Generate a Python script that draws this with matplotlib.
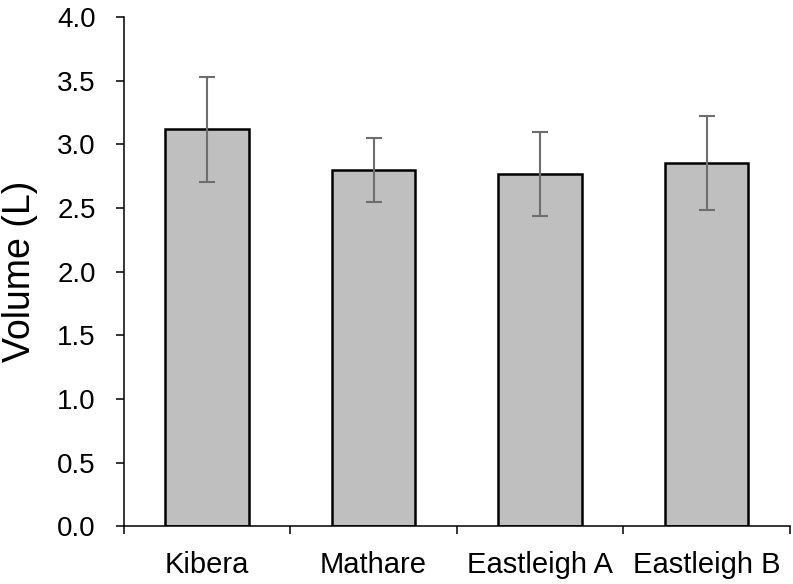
import numpy as np
from matplotlib import pyplot as plt

plt.rcParams['font.family'] = ['Liberation Sans', 'DejaVu Sans']

sites = ["Kibera", "Mathare", "Eastleigh A", "Eastleigh B"]
volume = [3.12, 2.80, 2.77, 2.85]
err_low = [0.42, 0.25, 0.33, 0.37]
err_high = [0.41, 0.25, 0.33, 0.37]

fig = plt.figure(figsize=(7.93, 5.84), dpi=100)
ax = fig.add_axes([0.156, 0.099, 0.840, 0.872])

x = np.arange(len(sites))
ax.bar(x, volume, width=0.5, color="#bfbfbf", edgecolor="black", linewidth=1.8, zorder=2)
ax.errorbar(x, volume, yerr=[err_low, err_high], fmt="none", ecolor="#6e6e6e",
            elinewidth=1.5, capsize=6, capthick=1.5, zorder=3)

ax.set_xlim(-0.5, len(sites) - 0.5)
ax.set_ylim(0, 4.0)
ax.set_yticks(np.arange(0, 4.01, 0.5))
ax.set_yticklabels([f"{v:.1f}" for v in np.arange(0, 4.01, 0.5)])
ax.set_xticks(x)
ax.set_xticklabels(sites)
ax.set_xticks(np.arange(-0.5, len(sites), 1.0), minor=True)
ax.tick_params(axis="x", which="major", length=0, pad=18, labelsize=21)
ax.tick_params(axis="x", which="minor", length=6, width=1.1, direction="out")
ax.tick_params(axis="y", length=6, width=1.1, labelsize=20, pad=14)

ax.spines["top"].set_visible(False)
ax.spines["right"].set_visible(False)
ax.spines["left"].set_linewidth(1.1)
ax.spines["bottom"].set_linewidth(1.1)

ax.set_ylabel("Volume (L)", fontsize=27, labelpad=14)

plt.savefig("out.png", dpi=100)
